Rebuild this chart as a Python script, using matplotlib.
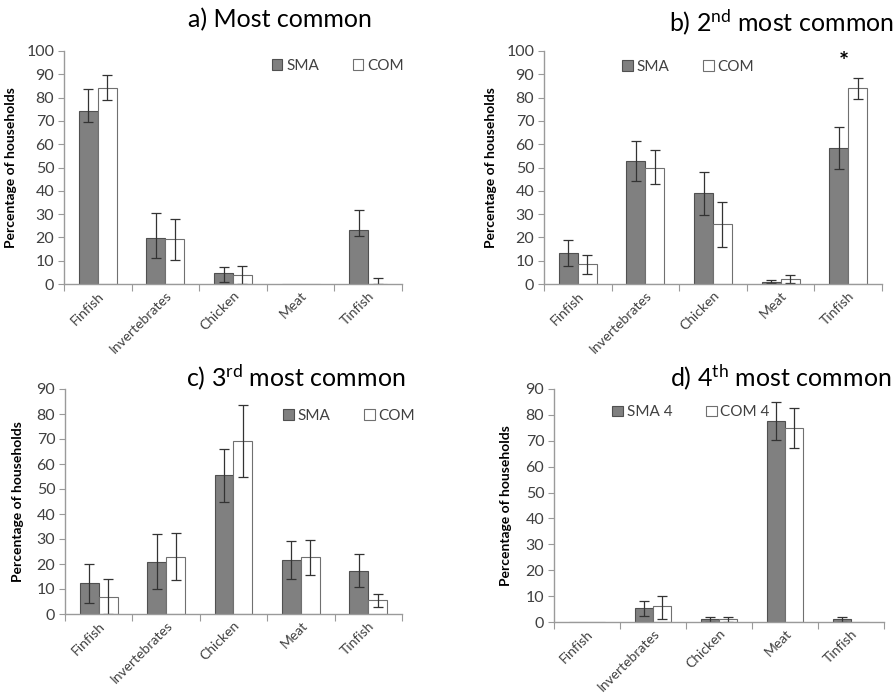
import numpy as np
import matplotlib
matplotlib.use("Agg")
import matplotlib.pyplot as plt

plt.rcParams["font.family"] = ["Lato", "DejaVu Sans"]
plt.rcParams["mathtext.fontset"] = "custom"
plt.rcParams["mathtext.rm"] = "Lato"
plt.rcParams["mathtext.it"] = "Lato"

categories = ["Finfish", "Invertebrates", "Chicken", "Meat", "Tinfish"]
nan = np.nan

# a) Most common
a_sma = [74.4, 19.8, 4.6, 0, 23.2]
a_sma_lo = [69.5, 11.0, 1.0, nan, 20.8]
a_sma_hi = [83.6, 30.3, 7.3, nan, 31.8]
a_com = [84.3, 19.3, 4.0, 0, 0]
a_com_lo = [79.0, 10.5, 0.0, nan, 0.0]
a_com_hi = [89.6, 28.1, 7.8, nan, 2.5]

# b) 2nd most common
b_sma = [13.3, 52.7, 39.0, 1.0, 58.5]
b_sma_lo = [7.7, 44.0, 29.8, 0.3, 49.5]
b_sma_hi = [19.0, 61.3, 48.0, 1.8, 67.5]
b_com = [8.5, 50.0, 25.6, 2.0, 84.0]
b_com_lo = [4.2, 43.0, 16.0, 0.5, 79.5]
b_com_hi = [12.6, 57.3, 35.3, 3.8, 88.5]

# c) 3rd most common
c_sma = [12.3, 21.0, 55.5, 21.8, 17.3]
c_sma_lo = [4.3, 10.0, 44.8, 14.0, 11.0]
c_sma_hi = [20.0, 32.0, 66.0, 29.4, 23.9]
c_com = [6.9, 22.9, 69.2, 22.7, 5.5]
c_com_lo = [0.0, 13.7, 54.9, 15.7, 3.0]
c_com_hi = [14.0, 32.3, 83.5, 29.8, 8.2]

# d) 4th most common
d_sma = [0, 5.5, 1.0, 77.5, 1.0]
d_sma_lo = [nan, 2.3, 0.0, 70.2, 0.0]
d_sma_hi = [nan, 8.2, 2.0, 84.8, 2.0]
d_com = [0, 6.0, 1.0, 75.0, 0]
d_com_lo = [nan, 1.2, 0.0, 67.2, nan]
d_com_hi = [nan, 10.2, 2.0, 82.5, nan]

W, H = 894, 698
fig = plt.figure(figsize=(W / 100, H / 100), dpi=100)

TXT = "#404040"
SPINE = "#9a9a9a"
BAR = "#808080"
EDGE = "#505050"


def px_axes(left, top, right, bottom):
    return fig.add_axes([left / W, 1 - bottom / H, (right - left) / W, (bottom - top) / H])


def panel(ax, sma, sma_lo, sma_hi, com, com_lo, com_hi, ymax, labels, leg_xy, ylab_x):
    x = np.arange(len(categories))
    bw = 0.28
    sma = np.array(sma, float)
    com = np.array(com, float)
    ax.bar(x - bw / 2, sma, bw, color=BAR, edgecolor=EDGE, linewidth=0.8, label=labels[0])
    ax.bar(x + bw / 2, com, bw, color="white", edgecolor="#707070", linewidth=0.8, label=labels[1])
    for xs, v, lo, hi in [(x - bw / 2, sma, sma_lo, sma_hi), (x + bw / 2, com, com_lo, com_hi)]:
        lo = np.array(lo, float)
        hi = np.array(hi, float)
        ax.errorbar(xs, v, yerr=[v - lo, hi - v], fmt="none", ecolor="#333333",
                    elinewidth=0.9, capsize=3.5, capthick=0.9)
    ax.set_xlim(-0.5, len(categories) - 0.5)
    ax.set_ylim(0, ymax)
    ax.set_yticks(np.arange(0, ymax + 1, 10))
    ax.set_xticks(np.arange(len(categories) + 1) - 0.5)
    ax.set_xticklabels([])
    ax.set_xticks(x, minor=True)
    ax.set_xticklabels(categories, minor=True, rotation=45, ha="right",
                       rotation_mode="anchor", fontsize=10, color=TXT)
    ax.tick_params(axis="x", which="minor", length=0, pad=4)
    ax.tick_params(axis="x", which="major", length=5, color=SPINE, direction="out")
    ax.tick_params(axis="y", length=4, color=SPINE, labelsize=11.5, labelcolor=TXT, pad=3)
    for s in ["top", "right"]:
        ax.spines[s].set_visible(False)
    for s in ["left", "bottom"]:
        ax.spines[s].set_color(SPINE)
        ax.spines[s].set_linewidth(1)
    ax.set_ylabel("Percentage of households", fontsize=10, fontweight="bold", color="black")
    ax.yaxis.set_label_coords(ylab_x, 0.5)
    ax.legend(ncol=2, frameon=False, loc="center left", bbox_to_anchor=leg_xy,
              borderpad=0, borderaxespad=0, handlelength=0.7, handleheight=0.7,
              handletextpad=0.25, columnspacing=2.2, fontsize=11, labelcolor=TXT)


ax_a = px_axes(64, 51, 402, 284)
panel(ax_a, a_sma, a_sma_lo, a_sma_hi, a_com, a_com_lo, a_com_hi, 100,
      ["SMA", "COM"], (0.614, 0.936), -0.139)
ax_b = px_axes(544, 51, 882, 284)
panel(ax_b, b_sma, b_sma_lo, b_sma_hi, b_com, b_com_lo, b_com_hi, 100,
      ["SMA", "COM"], (0.231, 0.931), -0.139)
ax_b.text(3.93, 95, "*", ha="center", va="center", fontsize=17, fontweight="bold")
ax_c = px_axes(65, 389, 402, 614)
panel(ax_c, c_sma, c_sma_lo, c_sma_hi, c_com, c_com_lo, c_com_hi, 90,
      ["SMA", "COM"], (0.647, 0.88), -0.122)
ax_d = px_axes(554, 389, 884, 622)
panel(ax_d, d_sma, d_sma_lo, d_sma_hi, d_com, d_com_lo, d_com_hi, 90,
      ["SMA 4", "COM 4"], (0.176, 0.90), -0.127)

fig.text(280 / W, 1 - 20 / H, "a) Most common", ha="center", va="center", fontsize=18)
fig.text(782 / W, 1 - 22 / H, r"b) 2$^{\mathrm{nd}}$ most common", ha="center", va="center", fontsize=18)
fig.text(296 / W, 1 - 377 / H, r"c) 3$^{\mathrm{rd}}$ most common", ha="center", va="center", fontsize=18)
fig.text(781 / W, 1 - 377 / H, r"d) 4$^{\mathrm{th}}$ most common", ha="center", va="center", fontsize=18)

fig.savefig("out.png", dpi=100)
